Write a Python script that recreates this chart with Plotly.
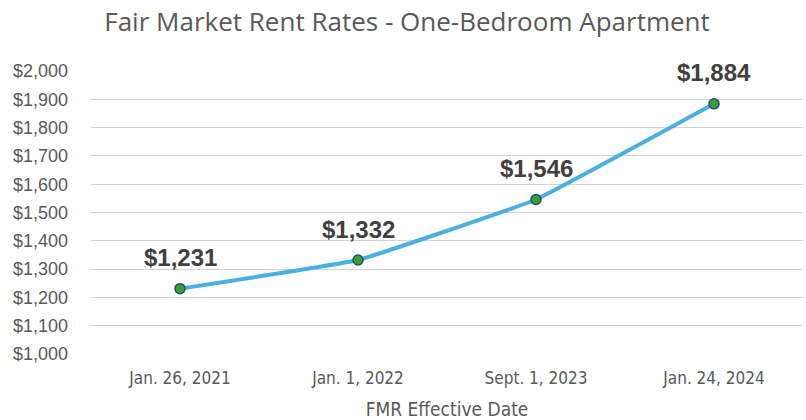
import plotly.graph_objects as go

dates = ["Jan. 26, 2021", "Jan. 1, 2022", "Sept. 1, 2023", "Jan. 24, 2024"]
rents = [1231, 1332, 1546, 1884]
labels = ["$1,231", "$1,332", "$1,546", "$1,884"]
y_ticks = list(range(1000, 2001, 100))

NARROW = "Liberation Sans Narrow, DejaVu Sans Condensed, Roboto"

fig = go.Figure()
fig.add_trace(go.Scatter(
    x=dates, y=rents, mode="lines+markers",
    line=dict(color="#4AB0E3", width=4, shape="spline", smoothing=0.25),
    marker=dict(size=10, color="#3E9F2E", line=dict(color="#1F4E79", width=1.5)),
    hoverinfo="skip",
))
for d, v, t in zip(dates, rents, labels):
    fig.add_annotation(x=d, y=v, text="<b>" + t + "</b>", showarrow=False,
                       yshift=31, font=dict(family="Liberation Sans, Arial", size=24, color="#404040"))

fig.update_layout(
    width=806, height=420,
    margin=dict(l=91, r=3, t=71, b=66),
    paper_bgcolor="white", plot_bgcolor="white",
    showlegend=False,
    title=dict(text="Fair Market Rent Rates - One-Bedroom Apartment", x=0.505, xanchor="center",
               y=0.947, yanchor="middle",
               font=dict(family="Open Sans, Noto Sans", size=26, color="#595959")),
)
fig.update_xaxes(
    type="category", range=[-0.5, 3.5], showgrid=False, showline=False, ticks="",
    ticklabelstandoff=12,
    tickfont=dict(family=NARROW, size=17, color="#595959"),
    title=dict(text="FMR Effective Date", standoff=16,
               font=dict(family=NARROW, size=19, color="#595959")),
)
fig.update_yaxes(
    range=[1000, 2000], tickvals=y_ticks, tickformat="$,.0f",
    showgrid=True, gridcolor="#D4D4D4", gridwidth=1,
    zeroline=False, showline=False, ticks="", ticklabelstandoff=22,
    tickfont=dict(family="Liberation Sans, Arial", size=18, color="#595959"),
)
fig.write_html("out.html", config={"displayModeBar": False, "staticPlot": True})

with open("out.html", "r", encoding="utf-8") as f:
    html = f.read()
html = html.replace("<head>", "<head><style>html,body{margin:0;padding:0;}</style>", 1)
with open("out.html", "w", encoding="utf-8") as f:
    f.write(html)
